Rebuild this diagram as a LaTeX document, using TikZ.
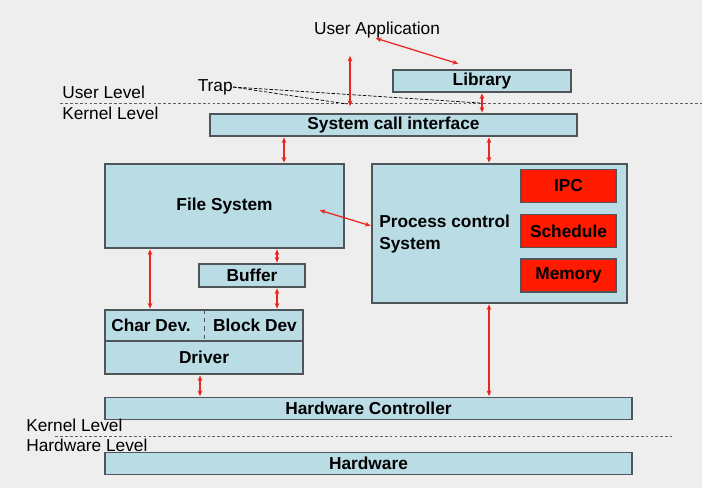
\documentclass[tikz,border=0pt]{standalone}
\usepackage{fontspec}
\setmainfont{Liberation Sans}
\usepackage{xcolor}
\usetikzlibrary{arrows.meta}
\definecolor{boxblue}{RGB}{186,220,229}
\definecolor{boxline}{RGB}{80,85,90}
\definecolor{ipcred}{RGB}{255,26,0}
\definecolor{linkred}{RGB}{232,40,30}
\definecolor{slidebg}{RGB}{238,238,238}
\newcommand{\pxu}{0.025cm}
\newcommand{\slidefont}{\fontsize{12.3}{15.6}\selectfont}
\tikzset{
  box/.style={draw=boxline, fill=boxblue, line width=0.8pt, inner sep=0pt, font=\slidefont\bfseries},
  redbox/.style={box, fill=ipcred, minimum width=95*\pxu, minimum height=33*\pxu},
  link/.style={linkred, line width=0.9pt, shorten <=0.6pt, shorten >=0.6pt,
    {Stealth[length=4pt,width=3.4pt]}-{Stealth[length=4pt,width=3.4pt]}},
  levelline/.style={gray!75!black, line width=0.7pt, dash pattern=on 2pt off 1.5pt},
  levelname/.style={anchor=west, inner sep=0pt}
}

\begin{document}
\begin{tikzpicture}[x=0.025cm, y=-0.025cm, font=\slidefont]
  \fill[slidebg] (0,0) rectangle (702,488);
  \useasboundingbox (0,0) rectangle (702,488);

  \node (ua) at (377,30) {User Application};
  \node[box, minimum width=178*\pxu, minimum height=22*\pxu] (lib) at (482,81) {Library};
  \node[box, minimum width=367*\pxu, minimum height=22*\pxu] (sci) at (393.5,125) {System call interface};
  \node[box, minimum width=239*\pxu, minimum height=84*\pxu] (fs) at (224.5,206) {File System};
  \node[box, minimum width=255*\pxu, minimum height=139*\pxu] (pcs) at (499.5,233.5) {};
  \node[anchor=west, align=left, inner sep=0pt, font=\slidefont\bfseries] (pcstext) at (379,234) {Process control\\System};
  \node[redbox] (ipc) at (568.5,186) {IPC};
  \node[redbox] (sched) at (568.5,231) {Schedule};
  \node[redbox] (mem) at (568.5,275.5) {Memory};
  \node[box, minimum width=106*\pxu, minimum height=23*\pxu] (buf) at (252,275.5) {Buffer};
  \node[box, minimum width=198*\pxu, minimum height=31*\pxu] (dev) at (204,325.5) {};
  \node[box, minimum width=198*\pxu, minimum height=33*\pxu] (drv) at (204,357.5) {Driver};
  \draw[boxline, dashed, thin] (dev.north) -- (dev.south);
  \node[font=\slidefont\bfseries] (chr) at (151,325) {Char Dev.};
  \node[font=\slidefont\bfseries] (blk) at (255,325) {Block Dev};
  \node[box, minimum width=527*\pxu, minimum height=22*\pxu] (hc) at (368.5,408.5) {Hardware Controller};
  \node[box, minimum width=527*\pxu, minimum height=22*\pxu] (hw) at (368.5,463.5) {Hardware};

  \node[levelname] (ulvl) at (62,92) {User Level};
  \node[levelname] (klvl) at (62,113) {Kernel Level};
  \node[levelname] (klvl2) at (26,425) {Kernel Level};
  \node[levelname] (hlvl) at (26,445) {Hardware Level};
  \coordinate (ukl) at (60,103);
  \coordinate (ukr) at (702,103);
  \coordinate (khl) at (55,436);
  \coordinate (khr) at (672,436);
  \draw[levelline] (ukl) -- (ukr);
  \draw[levelline] (khl) -- (khr);

  \node[anchor=east, inner sep=0pt] (trap) at (233,87) {Trap};
  \coordinate (trapA) at (347,104);
  \coordinate (trapB) at (480,103);
  \draw[black, line width=0.5pt, dash pattern=on 2.5pt off 1.2pt] (trap.east) -- (trapA);
  \draw[black, line width=0.5pt, dash pattern=on 2.5pt off 1.2pt] (trap.east) -- (trapB);

  \coordinate (uaA) at (350,55);
  \coordinate (callA) at (350,107);
  \coordinate (uaB) at (375,38);
  \coordinate (libB) at (459,64);
  \coordinate (fsC) at (319,210);
  \draw[link] (uaA) -- (callA);
  \draw[link] (uaB) -- (libB);
  \draw[link] (lib.south) -- (lib.south |- sci.north);
  \draw[link] (sci.south -| 284,0) -- (fs.north -| 284,0);
  \draw[link] (sci.south -| 489,0) -- (pcs.north -| 489,0);
  \draw[link] (fsC) -- (pcs.west |- 0,226);
  \draw[link] (fs.south -| 150,0) -- (dev.north -| 150,0);
  \draw[link] (fs.south -| 277,0) -- (buf.north -| 277,0);
  \draw[link] (buf.south -| 277,0) -- (dev.north -| 277,0);
  \draw[link] (drv.south -| 200,0) -- (hc.north -| 200,0);
  \draw[link] (pcs.south -| 489,0) -- (hc.north -| 489,0);
\end{tikzpicture}
\end{document}
